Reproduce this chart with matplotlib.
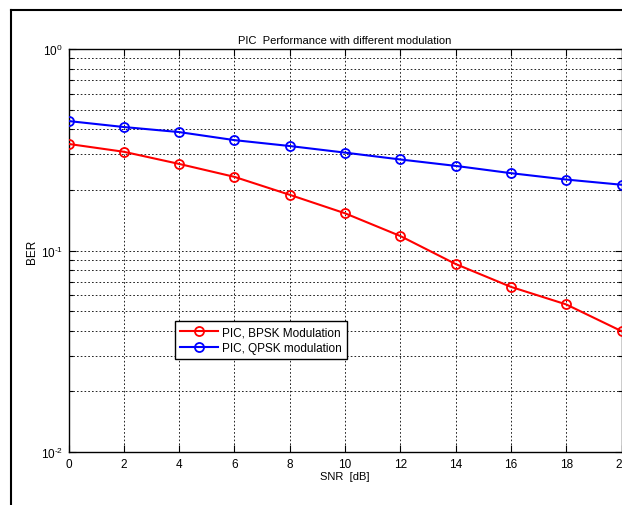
import math

import matplotlib
matplotlib.use("Agg")
import matplotlib.pyplot as plt
from matplotlib.lines import Line2D
from matplotlib.ticker import FuncFormatter, LogLocator, NullFormatter

plt.rcParams["font.family"] = ["Liberation Sans", "DejaVu Sans"]
plt.rcParams["mathtext.fontset"] = "custom"
plt.rcParams["mathtext.rm"] = "Liberation Sans"
plt.rcParams["mathtext.default"] = "regular"
plt.rcParams["axes.unicode_minus"] = False

snr_db = [0, 2, 4, 6, 8, 10, 12, 14, 16, 18, 20]
ber_bpsk = [0.338, 0.309, 0.269, 0.232, 0.189, 0.153, 0.118, 0.0857, 0.0660, 0.0540, 0.0398]
ber_qpsk = [0.439, 0.410, 0.387, 0.353, 0.330, 0.306, 0.283, 0.263, 0.242, 0.225, 0.212]
x_ticks = [0, 2, 4, 6, 8, 10, 12, 14, 16, 18, 20]


def pow10_label(v, pos):
    # matlab style: plain hyphen in the exponent
    return "$10^{\\text{%d}}$" % round(math.log10(v))


fig = plt.figure(figsize=(6.22, 5.06), dpi=100)
ax = fig.add_axes([68.5 / 622, 1 - 453 / 506, 553 / 622, 403 / 506])

ax.semilogy(snr_db, ber_bpsk, color="red", lw=1.5, marker="o", ms=6.5,
            mfc="none", mew=1.3, label="PIC, BPSK Modulation", zorder=3)
ax.semilogy(snr_db, ber_qpsk, color="blue", lw=1.5, marker="o", ms=6.5,
            mfc="none", mew=1.3, label="PIC, QPSK modulation", zorder=3)

ax.set_xlim(0, 20)
ax.set_ylim(1e-2, 1)
ax.set_xticks(x_ticks)
ax.yaxis.set_major_locator(LogLocator(base=10, numticks=5))
ax.yaxis.set_major_formatter(FuncFormatter(pow10_label))
ax.yaxis.set_minor_locator(LogLocator(base=10, subs=range(2, 10), numticks=20))
ax.yaxis.set_minor_formatter(NullFormatter())

ax.grid(True, which="major", color="black", ls=(0, (2, 2.5)), lw=0.6)
ax.grid(True, which="minor", axis="y", color="black", ls=(0, (2, 2.5)), lw=0.6)

ax.tick_params(which="both", direction="in", top=True, right=True, labelsize=8.5,
               width=0.8, colors="black")
ax.tick_params(which="major", length=5, pad=4)
ax.tick_params(which="minor", length=3)
for s in ax.spines.values():
    s.set_linewidth(1.0)

ax.set_title("PIC  Performance with different modulation", fontsize=8, pad=4)
ax.set_xlabel("SNR  [dB]", fontsize=8, labelpad=1)
ax.set_ylabel("BER", fontsize=8.5, labelpad=2)

leg = ax.legend(loc="lower left", bbox_to_anchor=(0.193, 0.231), borderaxespad=0,
                fontsize=8.5, fancybox=False, framealpha=1, edgecolor="black",
                handlelength=3.2, handletextpad=0.4, borderpad=0.4, labelspacing=0.35)
leg.get_frame().set_linewidth(1.0)

# figure frame (cropped screenshot: only left and top edges visible)
fig.add_artist(Line2D([11 / 622, 11 / 622], [0, 1 - 11 / 506], transform=fig.transFigure,
                      color="black", lw=1.5))
fig.add_artist(Line2D([11 / 622, 1], [1 - 11 / 506, 1 - 11 / 506], transform=fig.transFigure,
                      color="black", lw=1.5))

fig.savefig("out.png", dpi=100)
